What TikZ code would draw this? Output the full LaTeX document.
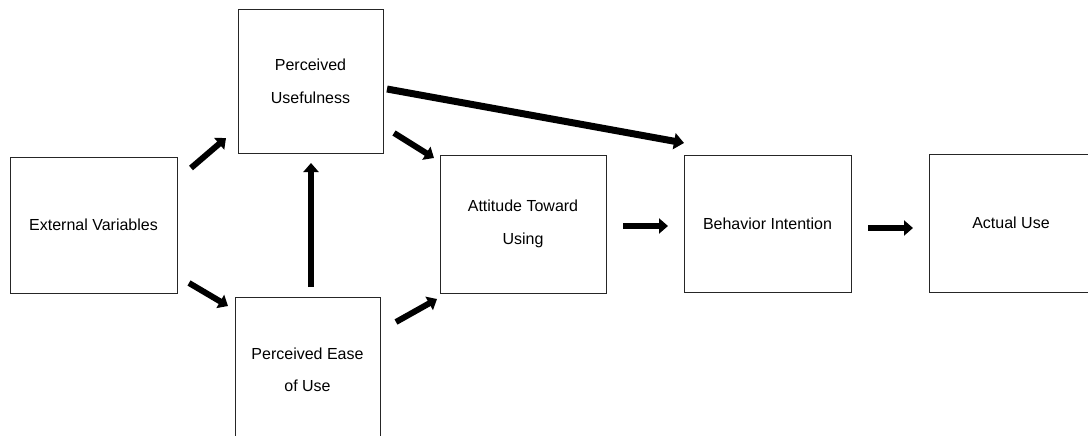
\documentclass[tikz,border=0pt]{standalone}
\usepackage{fontspec}
\setmainfont{Liberation Sans}
\usetikzlibrary{arrows.meta}
\tikzset{
  box/.style={draw=black!85, line width=1pt, rectangle, inner sep=0pt, align=center,
    font=\fontsize{16}{32.5}\selectfont},
  arr/.style={line width=6pt, -{Triangle[width=15pt,length=9pt]}},
  bigarr/.style={line width=7pt, -{Triangle[width=16pt,length=10pt]}}
}
\begin{document}
\begin{tikzpicture}[x=1pt,y=-1pt]
\useasboundingbox (0,0) rectangle (1088,436);
\clip (0,0) rectangle (1088,436);
\fill[white] (0,0) rectangle (1088,436);
\node[box, minimum width=167pt, minimum height=136pt] (ext) at (93.5,225) {External Variables};
\node[box, minimum width=145pt, minimum height=143pt] (pu) at (310.5,81.5) {Perceived\\Usefulness};
\node[box, minimum width=145pt, minimum height=146pt] (peou) at (307.5,370) {Perceived Ease\\of Use};
\node[box, minimum width=166pt, minimum height=138pt] (att) at (523,224) {Attitude Toward\\Using};
\node[box, minimum width=167pt, minimum height=137pt] (bi) at (767.5,223.5) {Behavior Intention};
\node[box, minimum width=164pt, minimum height=138pt] (au) at (1011,223) {Actual Use};
% arrow end points
\coordinate (a1s) at (191,168); \coordinate (a1e) at (226,138);
\coordinate (a2s) at (189,283); \coordinate (a2e) at (228,306);
\coordinate (a3s) at (311,287); \coordinate (a3e) at (311,163);
\coordinate (a4s) at (394,133); \coordinate (a4e) at (434,158);
\coordinate (a5s) at (396,322); \coordinate (a5e) at (437,299);
\coordinate (a6s) at (387,89);  \coordinate (a6e) at (684,143);
\coordinate (a7s) at (623,226); \coordinate (a7e) at (668,226);
\coordinate (a8s) at (868,228); \coordinate (a8e) at (913,228);
\draw[arr] (a1s) -- (a1e);
\draw[arr] (a2s) -- (a2e);
\draw[arr] (a3s) -- (a3e);
\draw[arr] (a4s) -- (a4e);
\draw[arr] (a5s) -- (a5e);
\draw[bigarr] (a6s) -- (a6e);
\draw[arr] (a7s) -- (a7e);
\draw[arr] (a8s) -- (a8e);
\end{tikzpicture}
\end{document}
